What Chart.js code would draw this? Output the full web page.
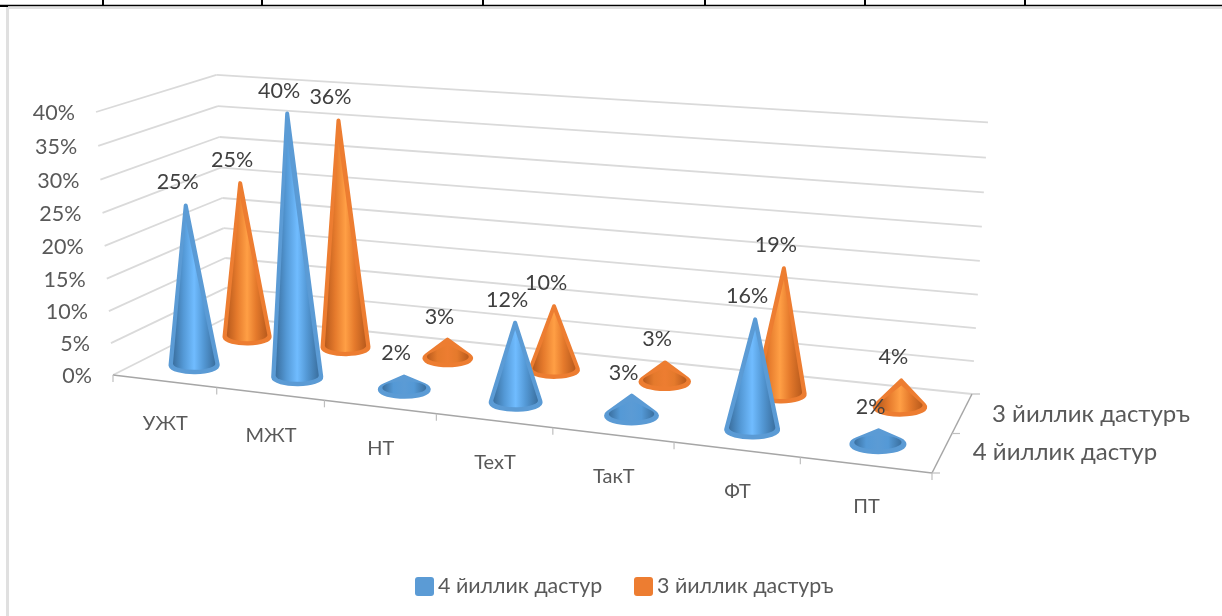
<!DOCTYPE html>
<html>
  <head>
    <meta charset="utf-8" />
    <title>Дастур</title>
    <script src="https://cdn.jsdelivr.net/npm/chart.js"></script>
    <style>
      body { margin: 0; background: #fff; }
      #legend { position: absolute; top: 574px; left: 415px; font: 21.4px "Lato", "Noto Sans", sans-serif; color: #595959; white-space: nowrap; }
      #legend span { position: absolute; top: 0; line-height: 22px; }
      #legend i { display: inline-block; width: 19px; height: 19px; border-radius: 3px; margin-right: 4px; vertical-align: -3px; }
    </style>
  </head>
  <body>
    <canvas id="coneChart" width="1222" height="616"></canvas>
    <div id="legend"></div>

    <script>
      // values
      var categories = ["УЖТ", "МЖТ", "НТ", "ТехТ", "ТакТ", "ФТ", "ПТ"];
      var series4 = [25, 40, 2, 12, 3, 16, 2];
      var series3 = [25, 36, 3, 10, 3, 19, 4];
      var seriesNames = ["4 йиллик дастур", "3 йиллик дастуръ"];
      var yMax = 40;
      var yStep = 5;
      var frameTicks = [103, 262, 483, 705, 865, 1025];

      var FONT = '"Lato", "Noto Sans", sans-serif';
      var TEXT = "#595959";

      // floor corners of the 3d box, and the point the verticals run to
      var FL = { x: 113, y: 375 }, FR = { x: 932, y: 473 };
      var BL = { x: 228, y: 317 }, BR = { x: 972, y: 394 };
      var VP = { x: 563, y: 7345 };
      var WARP = -0.13, PG = -0.125, PH = 0.092, PC = -0.03636;

      // u along the categories, d into the depth, v = share of the y axis
      function project(u, d, v) {
        var U = ((1 + WARP) * u) / (1 + WARP * u);
        var fx = FL.x + (FR.x - FL.x) * U, fy = FL.y + (FR.y - FL.y) * U;
        var bx = BL.x + (BR.x - BL.x) * U, by = BL.y + (BR.y - BL.y) * U;
        var px = fx + (bx - fx) * d, py = fy + (by - fy) * d;
        var w = 1 + PG * u + PH * d;
        return {
          x: (w * px + v * PC * VP.x) / (w + v * PC),
          y: (w * py + v * PC * VP.y) / (w + v * PC),
          w: w,
        };
      }

      function line(ctx, a, b) {
        ctx.beginPath();
        ctx.moveTo(a.x, a.y);
        ctx.lineTo(b.x, b.y);
        ctx.stroke();
      }

      // outline of a cone: tip + lower part of the base ellipse
      function conePath(ctx, cx, cy, rx, ry, tx, ty) {
        var k = rx / ry;
        var dx = tx - cx, dy = (ty - cy) * k;
        var D = Math.sqrt(dx * dx + dy * dy);
        var toTip = Math.atan2(dy, dx);
        var a = Math.acos(Math.min(1, rx / D));
        ctx.beginPath();
        ctx.moveTo(tx, ty);
        ctx.lineTo(cx + rx * Math.cos(toTip + a), cy + ry * Math.sin(toTip + a));
        ctx.ellipse(cx, cy, rx, ry, 0, toTip + a, toTip - a + Math.PI * 2, false);
        ctx.closePath();
      }

      function drawCone(ctx, base, tip, rx, col) {
        var ry = rx * 0.32;
        var h = base.y - tip.y;
        ctx.save();
        ctx.fillStyle = col.rim;
        ctx.strokeStyle = col.rim;
        ctx.lineWidth = 4;
        ctx.lineJoin = "round";
        conePath(ctx, base.x, base.y, rx - 1, ry - 0.8, tip.x, tip.y + 1);
        ctx.fill();
        ctx.stroke();

        // shaded inner cone, small ones get no bright middle
        var irx = rx * 0.86;
        var g = ctx.createLinearGradient(base.x - irx, 0, base.x + irx, 0);
        g.addColorStop(0, col.dark);
        g.addColorStop(0.25, col.mid);
        g.addColorStop(0.5, h < 22 ? col.rim : col.light);
        g.addColorStop(0.72, col.mid);
        g.addColorStop(1, col.dark);
        ctx.fillStyle = g;
        conePath(ctx, base.x, base.y - ry * 0.2, irx, ry * 0.8, tip.x, tip.y + Math.max(6, h * 0.1));
        ctx.fill();
        ctx.restore();
      }

      var colours = [
        { rim: "#5B9BD5", dark: "#3A6F9F", mid: "#5499D6", light: "#70BCFF" },
        { rim: "#ED7D31", dark: "#B85A1C", mid: "#E57A2C", light: "#FF9F45" },
      ];
      var depths = [0.27, 0.75];

      var cone3d = {
        id: "cone3d",
        beforeDraw: function (chart) {
          var ctx = chart.ctx;
          ctx.save();
          ctx.fillStyle = "#fff";
          ctx.fillRect(0, 0, chart.width, chart.height);

          // frame of the page around the chart
          ctx.strokeStyle = "#E0E0E0";
          ctx.lineWidth = 3;
          line(ctx, { x: 7.5, y: 7 }, { x: 7.5, y: 616 });
          ctx.lineWidth = 2;
          line(ctx, { x: 6, y: 8 }, { x: 1222, y: 8 });
          ctx.strokeStyle = "#000";
          ctx.lineWidth = 1.5;
          line(ctx, { x: 0, y: 5.5 }, { x: 1222, y: 5.5 });
          ctx.lineWidth = 2;
          line(ctx, { x: 0, y: 6 }, { x: 8, y: 6 });
          frameTicks.forEach(function (x) {
            line(ctx, { x: x, y: 0 }, { x: x, y: 5 });
          });

          // wall grid lines from the y scale
          var yScale = chart.scales.y;
          var range = yScale.bottom - yScale.top;
          ctx.strokeStyle = "#DADADA";
          ctx.lineWidth = 1.8;
          yScale.ticks.forEach(function (t) {
            var v = (yScale.bottom - yScale.getPixelForValue(t.value)) / range;
            var a = project(0, 0, v), b = project(0, 1, v), c = project(1, 1, v);
            line(ctx, a, b);
            line(ctx, b, c);
          });

          // floor axes
          ctx.strokeStyle = "#A6A6A6";
          ctx.lineWidth = 1.5;
          line(ctx, project(0, 0, 0), project(1, 0, 0));
          line(ctx, project(1, 0, 0), project(1, 1, 0));
          ctx.strokeStyle = "#BFBFBF";
          ctx.lineWidth = 1.2;
          for (var i = 0; i <= categories.length; i++) {
            var p = project(i / categories.length, 0, 0);
            line(ctx, p, { x: p.x, y: p.y + 7 });
          }
          [0, 0.5, 1].forEach(function (d) {
            var q = project(1, d, 0);
            line(ctx, q, { x: q.x + 8, y: q.y });
          });

          // axis texts
          ctx.fillStyle = TEXT;
          ctx.font = "21.5px " + FONT;
          ctx.textBaseline = "middle";
          ctx.textAlign = "right";
          yScale.ticks.forEach(function (t) {
            var v = (yScale.bottom - yScale.getPixelForValue(t.value)) / range;
            var a = project(0, 0, v);
            ctx.fillText(t.label, a.x - 21, a.y + 1);
          });
          ctx.font = "20px " + FONT;
          ctx.textAlign = "center";
          categories.forEach(function (name, n) {
            var p = project((n + 0.5) / categories.length, 0, 0);
            ctx.fillText(name, p.x + 1, p.y + 42);
          });
          ctx.textAlign = "left";
          ctx.font = "24px " + FONT;
          seriesNames.forEach(function (name, s) {
            var p = project(1, depths[s], 0);
            ctx.fillText(name, p.x + 30, p.y + 1);
          });
          ctx.restore();
        },
        afterDatasetsDraw: function (chart) {
          var ctx = chart.ctx;
          var yScale = chart.scales.y;
          var xScale = chart.scales.x;
          var range = yScale.bottom - yScale.top;
          var marks = [];
          // back row first
          [1, 0].forEach(function (s) {
            chart.getDatasetMeta(s).data.forEach(function (bar, n) {
              var u = (bar.x - xScale.left) / xScale.width;
              var v = (bar.base - bar.y) / range;
              var base = project(u, depths[s], 0);
              var tip = project(u, depths[s], v);
              tip.y -= 1;
              drawCone(ctx, base, tip, 25 / base.w, colours[s]);
              marks.push({ tip: tip, text: chart.data.datasets[s].data[n] + "%" });
            });
          });
          ctx.save();
          ctx.fillStyle = "#404040";
          ctx.font = "21.5px " + FONT;
          ctx.textAlign = "center";
          ctx.textBaseline = "middle";
          marks.forEach(function (m) {
            ctx.fillText(m.text, m.tip.x - 8, m.tip.y - 22);
          });
          ctx.restore();
        },
      };

      var chart = new Chart(document.getElementById("coneChart").getContext("2d"), {
        type: "bar",
        data: {
          labels: categories,
          datasets: [
            { label: seriesNames[0], data: series4, backgroundColor: "transparent", grouped: false },
            { label: seriesNames[1], data: series3, backgroundColor: "transparent", grouped: false },
          ],
        },
        options: {
          responsive: false,
          animation: false,
          layout: { padding: { left: 113, right: 290, top: 112, bottom: 241 } },
          plugins: { legend: { display: false }, tooltip: { enabled: false } },
          scales: {
            x: { display: false },
            y: {
              display: false,
              min: 0,
              max: yMax,
              ticks: { stepSize: yStep, callback: function (v) { return v + "%"; } },
            },
          },
        },
        plugins: [cone3d],
      });

      // legend under the chart
      var legend = document.getElementById("legend");
      var legendLeft = [0, 219];
      seriesNames.forEach(function (name, s) {
        var item = document.createElement("span");
        item.style.left = legendLeft[s] + "px";
        item.innerHTML = '<i style="background:' + colours[s].rim + '"></i>' + name;
        legend.appendChild(item);
      });
    </script>
  </body>
</html>
